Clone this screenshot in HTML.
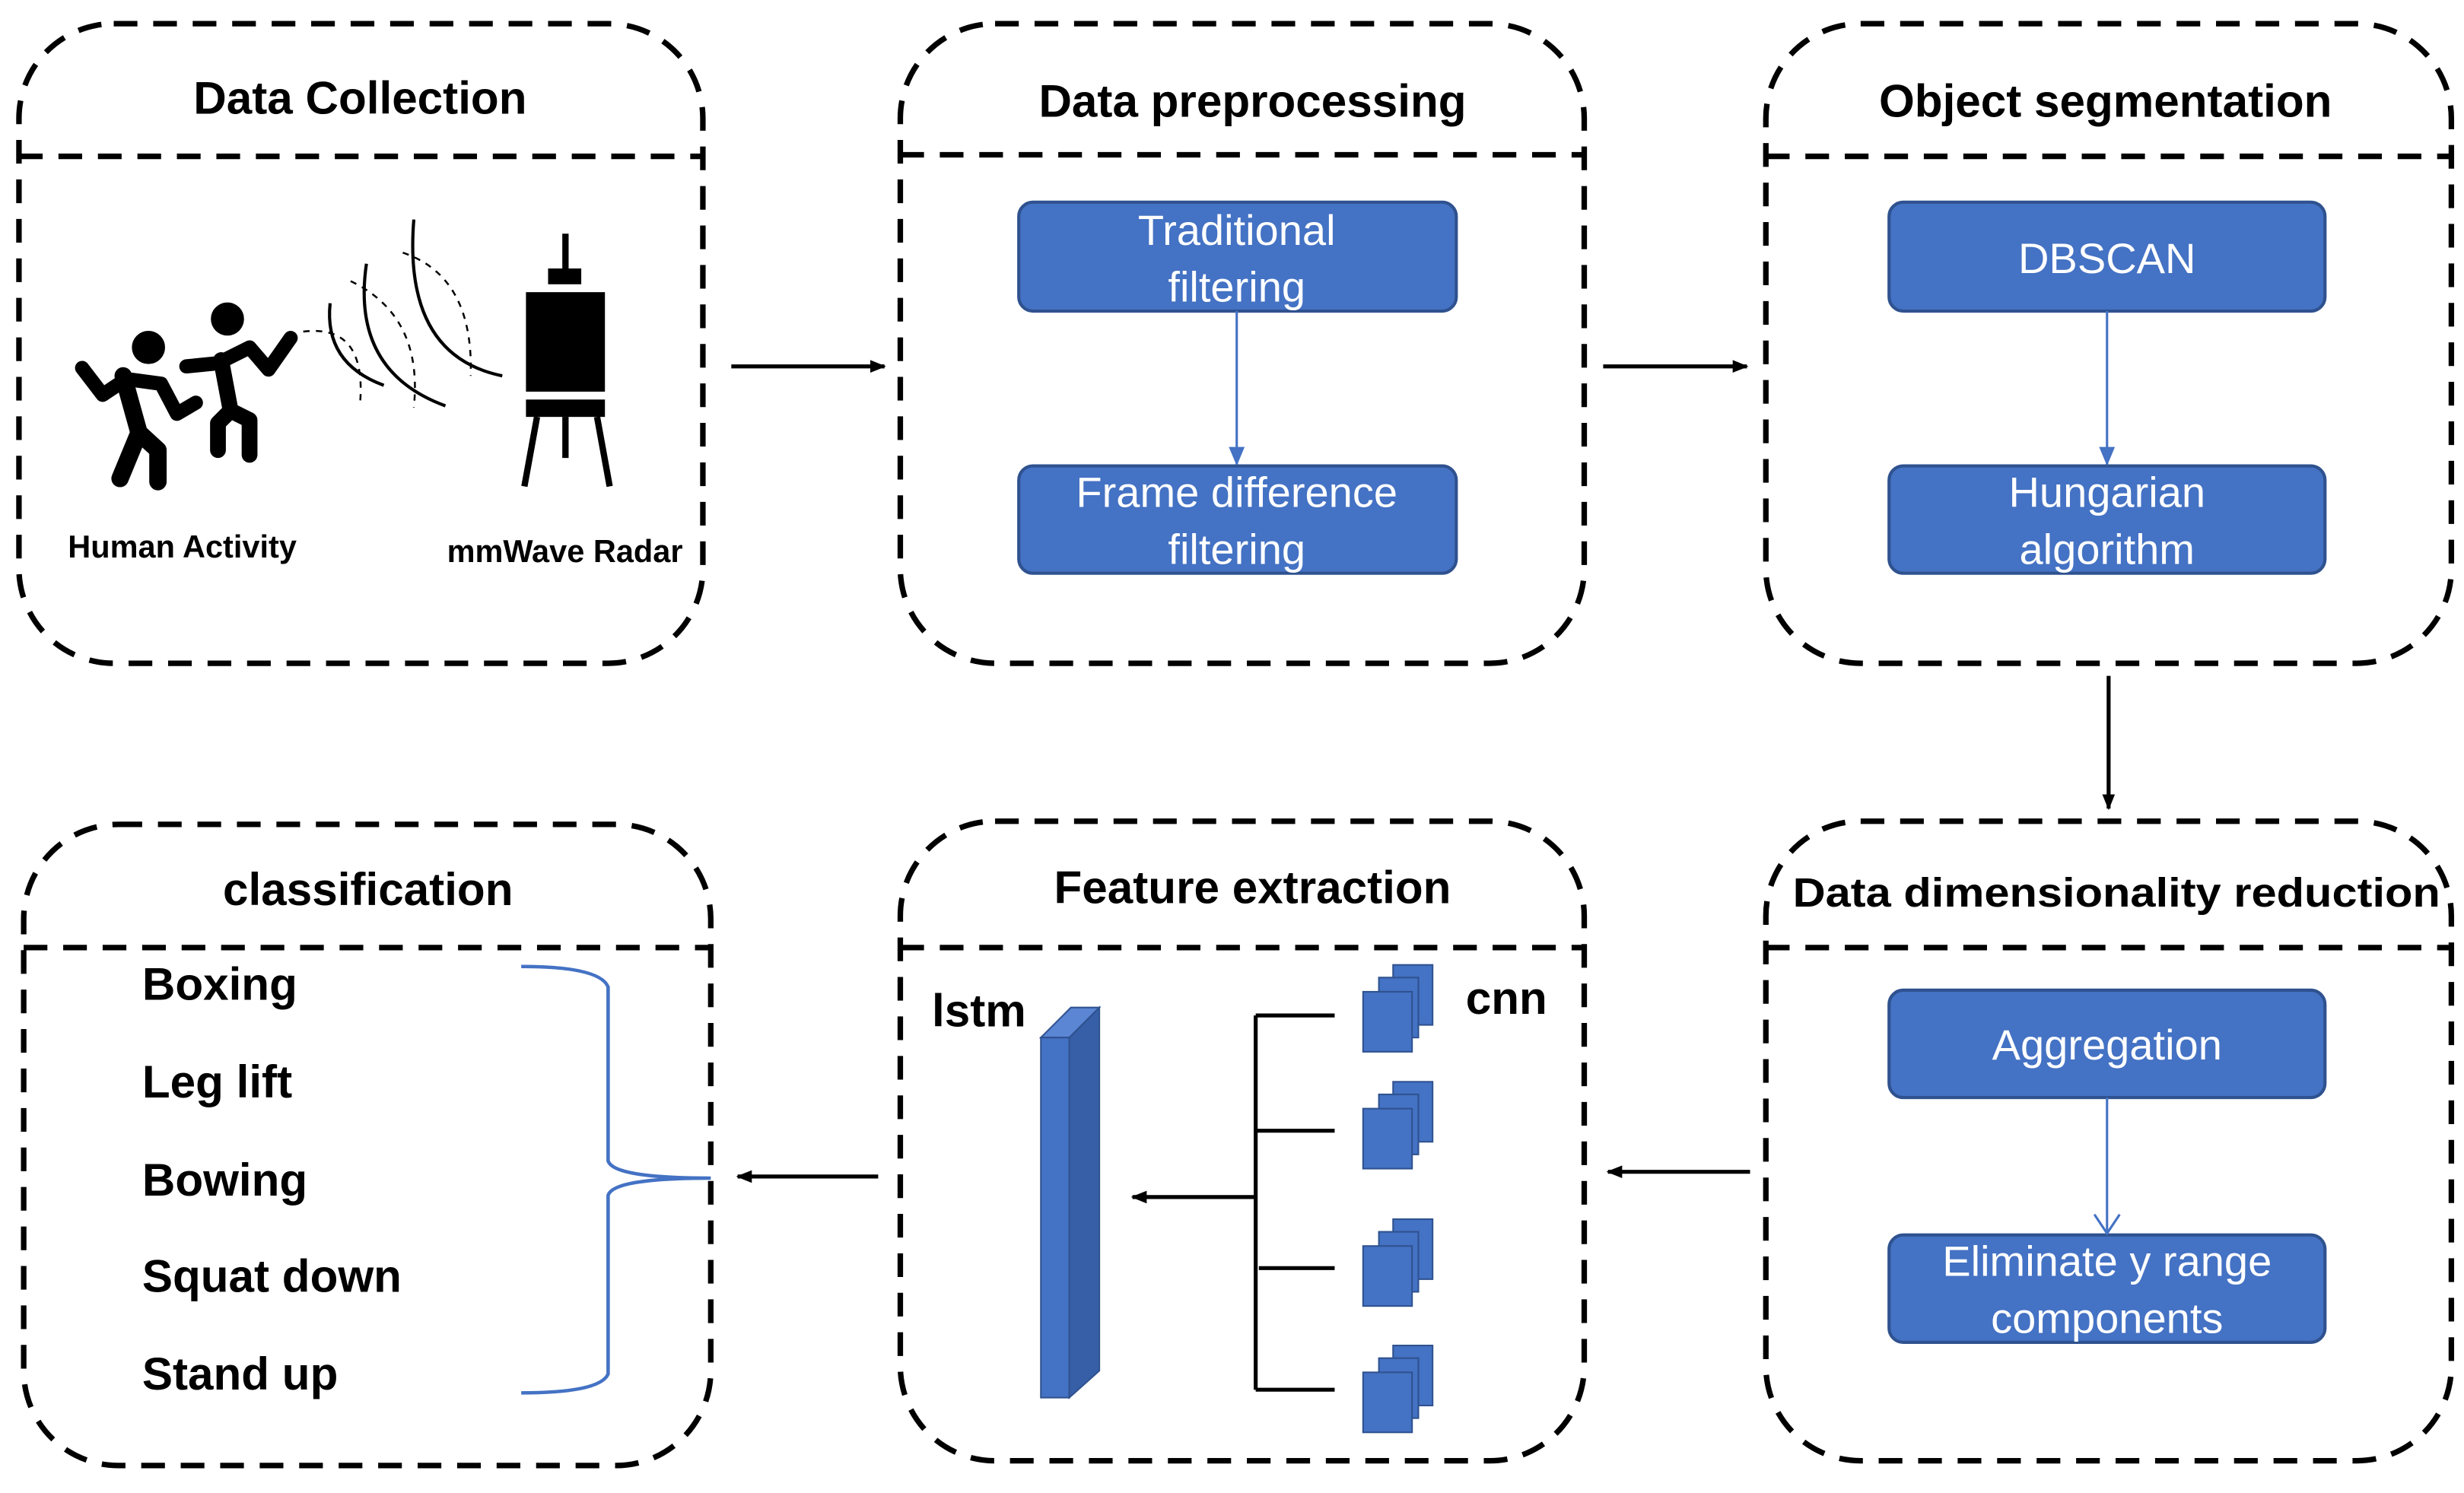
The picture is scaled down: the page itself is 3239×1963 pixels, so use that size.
<!DOCTYPE html>
<html><head><meta charset="utf-8"><style>
html,body{margin:0;padding:0;background:#fff;}
svg{display:block;}
text{font-family:"Liberation Sans",sans-serif;}
</style></head><body>
<svg width="3239" height="1963" viewBox="0 0 1560 945.4" preserveAspectRatio="none" xmlns="http://www.w3.org/2000/svg">
<defs>
<marker id="ak" markerWidth="10" markerHeight="10" refX="9" refY="5" orient="auto" markerUnits="userSpaceOnUse"><path d="M0,1 L10,5 L0,9 Z" fill="#000"/></marker>
<marker id="ab" markerWidth="12" markerHeight="12" refX="11" refY="6" orient="auto" markerUnits="userSpaceOnUse"><path d="M0,1 L12,6 L0,11 Z" fill="#4472C4"/></marker>
</defs>
<g fill="none" stroke="#000" stroke-width="3.5" stroke-dasharray="15,10">
<rect x="12" y="15" width="433" height="405" rx="60"/>
<line x1="12" y1="99" x2="445" y2="99"/>
<rect x="570" y="15" width="433" height="405" rx="60"/>
<line x1="570" y1="98" x2="1003" y2="98"/>
<rect x="1118" y="15" width="434" height="405" rx="60"/>
<line x1="1118" y1="99" x2="1552" y2="99"/>
<rect x="15" y="522" width="435" height="406" rx="60"/>
<line x1="15" y1="600" x2="450" y2="600"/>
<rect x="570" y="520" width="433" height="405" rx="60"/>
<line x1="570" y1="600" x2="1003" y2="600"/>
<rect x="1118" y="520" width="434" height="405" rx="60"/>
<line x1="1118" y1="600" x2="1552" y2="600"/>
</g>
<g font-size="29" font-weight="bold" fill="#000" text-anchor="middle">
<text x="228" y="72">Data Collection</text>
<text x="793" y="74">Data preprocessing</text>
<text x="1333" y="74">Object segmentation</text>
<text x="233" y="573">classification</text>
<text x="793" y="572">Feature extraction</text>
<text x="1340" y="574" font-size="26" textLength="410" lengthAdjust="spacingAndGlyphs">Data dimensionality reduction</text>
</g>
<!-- blue boxes -->
<g fill="#4472C4" stroke="#2F528F" stroke-width="2">
<rect x="645" y="128" width="277" height="69" rx="9"/>
<rect x="645" y="295" width="277" height="68" rx="9"/>
<rect x="1196" y="128" width="276" height="69" rx="9"/>
<rect x="1196" y="295" width="276" height="68" rx="9"/>
<rect x="1196" y="627" width="276" height="68" rx="9"/>
<rect x="1196" y="782" width="276" height="68" rx="9"/>
</g>
<g fill="#fff" font-size="27" text-anchor="middle">
<text x="783" y="155">Traditional</text>
<text x="783" y="191">filtering</text>
<text x="783" y="321">Frame difference</text>
<text x="783" y="357">filtering</text>
<text x="1334" y="173">DBSCAN</text>
<text x="1334" y="321">Hungarian</text>
<text x="1334" y="357">algorithm</text>
<text x="1334" y="671">Aggregation</text>
<text x="1334" y="808">Eliminate y range</text>
<text x="1334" y="844">components</text>
</g>
<g stroke="#4472C4" stroke-width="1.5" fill="none">
<line x1="783" y1="197" x2="783" y2="294" marker-end="url(#ab)"/>
<line x1="1334" y1="197" x2="1334" y2="294" marker-end="url(#ab)"/>
<line x1="1334" y1="695" x2="1334" y2="781"/>
<path d="M1326,769 L1334,781 L1342,769"/>
</g>
<!-- main arrows -->
<g stroke="#000" stroke-width="2.5" fill="none">
<line x1="463" y1="232" x2="560" y2="232" marker-end="url(#ak)"/>
<line x1="1015" y1="232" x2="1106" y2="232" marker-end="url(#ak)"/>
<line x1="1335" y1="428" x2="1335" y2="512" marker-end="url(#ak)"/>
<line x1="1108" y1="742" x2="1018" y2="742" marker-end="url(#ak)"/>
<line x1="556" y1="745" x2="467" y2="745" marker-end="url(#ak)"/>
</g>
<!-- classification -->
<g font-size="29" font-weight="bold" fill="#000">
<text x="90" y="633">Boxing</text>
<text x="90" y="695">Leg lift</text>
<text x="90" y="757">Bowing</text>
<text x="90" y="818">Squat down</text>
<text x="90" y="880">Stand up</text>
</g>
<path d="M330,612 Q380,612 385,625 L385,735 Q388,746 450,746 Q388,746 385,757 L385,870 Q380,882 330,882" fill="none" stroke="#4472C4" stroke-width="2.2"/>
<!-- feature extraction -->
<text x="590" y="650" font-size="29" font-weight="bold">lstm</text>
<text x="928" y="642" font-size="29" font-weight="bold">cnn</text>
<polygon points="659,657 677,657 696,638 678,638" fill="#5B86D4" stroke="#2F528F" stroke-width="1"/>
<rect x="659" y="657" width="18" height="228" fill="#4472C4" stroke="#2F528F" stroke-width="1"/>
<polygon points="677,657 696,638 696,868 677,885" fill="#375FA8" stroke="#2F528F" stroke-width="1"/>
<g stroke="#000" stroke-width="2.5" fill="none">
<line x1="795" y1="643" x2="795" y2="880"/>
<line x1="795" y1="643" x2="845" y2="643"/>
<line x1="795" y1="716" x2="845" y2="716"/>
<line x1="797" y1="803" x2="845" y2="803"/>
<line x1="795" y1="880" x2="845" y2="880"/>
<line x1="795" y1="758" x2="717" y2="758" marker-end="url(#ak)"/>
</g>
<g fill="#4472C4" stroke="#2F528F" stroke-width="1">
<g id="stk"><rect x="882" y="611" width="25" height="38"/><rect x="873" y="619" width="25" height="38"/><rect x="863" y="628" width="31" height="38"/></g>
<use href="#stk" y="74"/><use href="#stk" y="161"/><use href="#stk" y="241"/>
</g>
<!-- data collection illustration -->
<g fill="#000" stroke="#000" stroke-linecap="round" stroke-linejoin="round">
<circle cx="94" cy="220" r="10"/>
<path d="M52,233 L65,250 L80,240 L102,243 L112,262 L124,255" fill="none" stroke-width="9"/>
<path d="M78,238 L88,274 L76,303 M88,274 L100,285 L100,305" fill="none" stroke-width="11"/>
<circle cx="144" cy="202" r="10"/>
<path d="M118,232 L138,230 L158,220 L170,234 L184,214" fill="none" stroke-width="9"/>
<path d="M140,228 L146,260 L138,268 L138,285 M146,260 L158,266 L158,288" fill="none" stroke-width="10"/>
</g>
<g fill="none" stroke="#000" stroke-width="2">
<path d="M209,192 Q205,230 243,244"/>
<path d="M232,167 Q222,235 282,257"/>
<path d="M262,139 Q255,225 318,238"/>
</g>
<g fill="none" stroke="#000" stroke-width="1.2" stroke-dasharray="4,4">
<path d="M192,210 Q232,205 228,255"/>
<path d="M222,178 Q268,200 262,258"/>
<path d="M255,160 Q300,175 298,238"/>
</g>
<g fill="#000" stroke="#000">
<line x1="358" y1="148" x2="358" y2="170" stroke-width="4"/>
<rect x="347" y="170" width="21" height="10" stroke="none"/>
<rect x="333" y="185" width="50" height="63" stroke="none"/>
<rect x="333" y="253" width="50" height="11" stroke="none"/>
<path d="M340,264 L332,308 M378,264 L386,308 M358,264 L358,290" stroke-width="4" fill="none"/>
</g>
<text x="43" y="353" font-size="20" font-weight="bold">Human Activity</text>
<text x="283" y="356" font-size="20" font-weight="bold">mmWave Radar</text>
</svg>
</body></html>
